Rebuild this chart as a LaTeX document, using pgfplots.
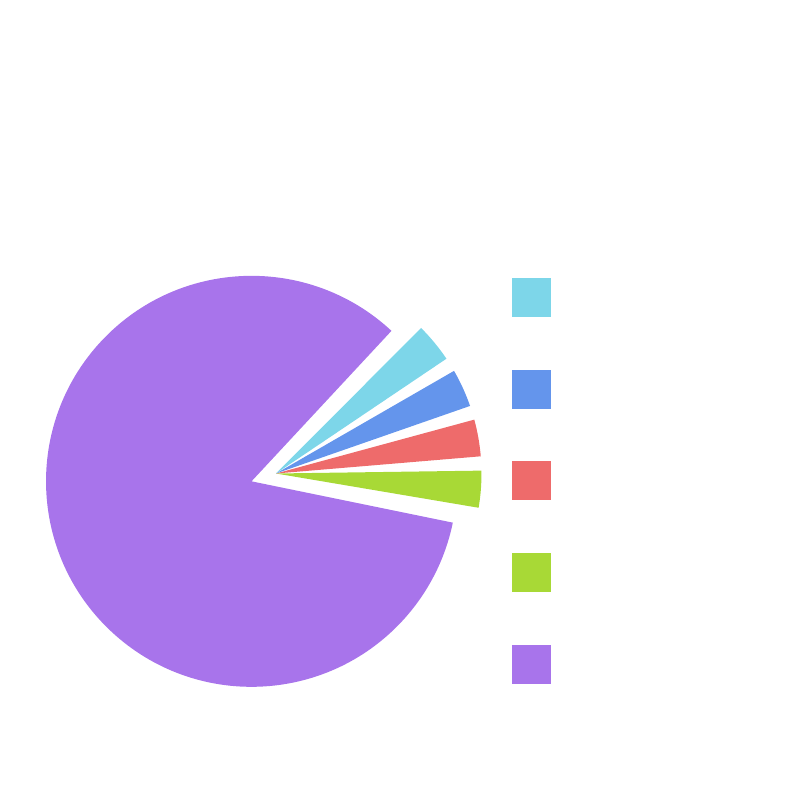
\documentclass[border=0pt]{standalone}
\usepackage{pgfplots}
\usepackage{pgfplotstable}
\pgfplotsset{compat=1.18}

\definecolor{sliceCyan}{HTML}{7DD6E9}
\definecolor{sliceBlue}{HTML}{6495EC}
\definecolor{sliceRed}{HTML}{EE6B6B}
\definecolor{sliceGreen}{HTML}{A8D936}
\definecolor{slicePurple}{HTML}{A874EB}

% share in percent, half gap (deg), pull-out (px), colour
\pgfplotstableread{
share pad pull colour
4.0  2.0 0    sliceGreen
4.0  2.0 0    sliceRed
4.1  2.0 0    sliceBlue
4.2  2.0 0    sliceCyan
83.7 0.0 25.7 slicePurple
}\slices

\def\piex{276}
\def\piey{326.5}
\def\pieR{205.5}
\def\startangle{-11.6}

\begin{document}
\begin{tikzpicture}
\begin{axis}[
    x=0.5pt, y=0.5pt,
    xmin=0, xmax=800, ymin=0, ymax=800,
    hide axis, clip=false,
    legend cell align=left,
    legend image code/.code={\fill[#1, draw=none] (0pt,-9.75pt) rectangle (19.5pt,9.75pt);},
    legend style={at={(axis cs:512,522)}, anchor=north west,
        draw=none, fill=none, inner sep=0pt, outer sep=0pt,
        row sep=26.35pt, nodes={inner sep=0pt}},
]
\pgfplotsextra{%
    \path (axis cs:0,0) rectangle (axis cs:800,800);
    \global\let\cumangle\startangle
    \pgfplotstablegetrowsof{\slices}%
    \pgfmathtruncatemacro{\lastrow}{\pgfplotsretval-1}%
    \foreach \i in {0,...,\lastrow}{%
        \pgfplotstablegetelem{\i}{share}\of\slices \let\share\pgfplotsretval
        \pgfplotstablegetelem{\i}{pad}\of\slices \let\pad\pgfplotsretval
        \pgfplotstablegetelem{\i}{pull}\of\slices \let\pull\pgfplotsretval
        \pgfplotstablegetelem{\i}{colour}\of\slices \let\col\pgfplotsretval
        \pgfmathsetmacro{\aone}{\cumangle+\pad}%
        \pgfmathsetmacro{\atwo}{\cumangle+3.6*\share-\pad}%
        \pgfmathsetmacro{\amid}{\cumangle+1.8*\share}%
        \pgfmathsetmacro{\cx}{\piex+\pull*cos(\amid)}%
        \pgfmathsetmacro{\cy}{\piey+\pull*sin(\amid)}%
        \pgfmathsetmacro{\px}{\cx+\pieR*cos(\aone)}%
        \pgfmathsetmacro{\py}{\cy+\pieR*sin(\aone)}%
        \pgfmathsetmacro{\rpt}{0.5*\pieR}%
        \path[fill=\col] (axis cs:\cx,\cy) -- (axis cs:\px,\py)
            arc[start angle=\aone, end angle=\atwo, radius=\rpt pt] -- cycle;
        \pgfmathsetmacro{\nextangle}{\cumangle+3.6*\share}%
        \global\let\cumangle\nextangle
    }%
}
\addlegendimage{fill=sliceCyan, draw=none}
\addlegendentry{\mbox{}}
\addlegendimage{fill=sliceBlue, draw=none}
\addlegendentry{\mbox{}}
\addlegendimage{fill=sliceRed, draw=none}
\addlegendentry{\mbox{}}
\addlegendimage{fill=sliceGreen, draw=none}
\addlegendentry{\mbox{}}
\addlegendimage{fill=slicePurple, draw=none}
\addlegendentry{\mbox{}}
\end{axis}
\end{tikzpicture}
\end{document}
